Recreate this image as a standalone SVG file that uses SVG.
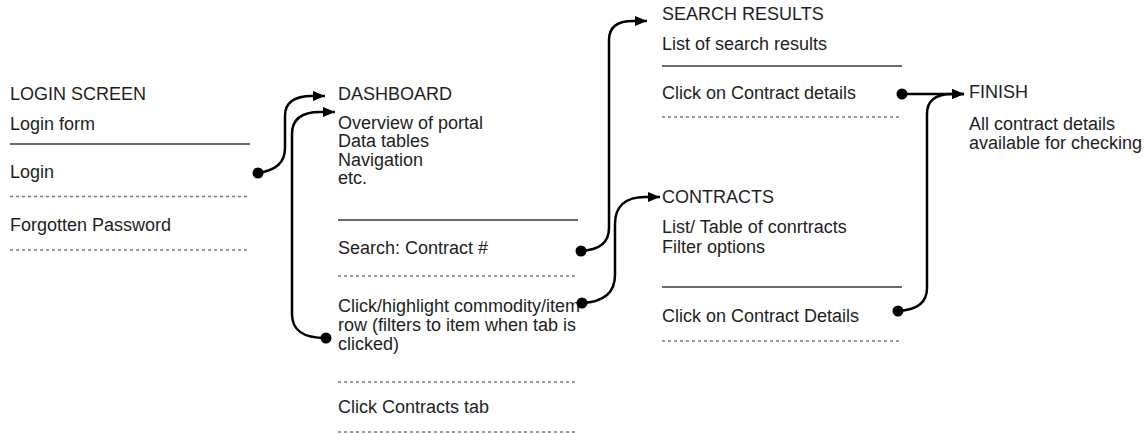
<svg xmlns="http://www.w3.org/2000/svg" width="1144" height="434" viewBox="0 0 1144 434">
<defs>
<style>
text{font-family:"Liberation Sans",Arial,sans-serif;font-size:18px;fill:#1e1e1e}
.sep{stroke:#6b6b6b;stroke-width:2;fill:none}
.dash{stroke:#7a7a7a;stroke-width:1.5;stroke-dasharray:3 3;fill:none}
.conn{stroke:#000;stroke-width:2.5;fill:none}
.dot{fill:#000}
</style>
<marker id="arr" viewBox="0 0 12 10" refX="12" refY="5" markerWidth="12" markerHeight="10" markerUnits="userSpaceOnUse" orient="auto">
<path d="M0,0 L12,5 L0,10 Z" fill="#000"/>
</marker>
</defs>
<rect width="1144" height="434" fill="#fff"/>
<g id="login">
<text x="10" y="100">LOGIN SCREEN</text>
<text x="10" y="130">Login form</text>
<line class="sep" x1="10" y1="144" x2="250" y2="144"/>
<text x="10" y="178">Login</text>
<line class="dash" x1="10" y1="196.5" x2="250" y2="196.5"/>
<text x="10" y="231">Forgotten Password</text>
<line class="dash" x1="10" y1="250" x2="250" y2="250"/>
</g>
<g id="dashboard">
<text x="338" y="100">DASHBOARD</text>
<text x="338" y="128.5">Overview of portal</text>
<text x="338" y="147">Data tables</text>
<text x="338" y="165.5">Navigation</text>
<text x="338" y="184">etc.</text>
<line class="sep" x1="338" y1="220" x2="578" y2="220"/>
<text x="338" y="254">Search: Contract #</text>
<line class="dash" x1="338" y1="276" x2="578" y2="276"/>
<text x="338" y="312">Click/highlight commodity/item</text>
<text x="338" y="331">row (filters to item when tab is</text>
<text x="338" y="350">clicked)</text>
<line class="dash" x1="338" y1="382" x2="578" y2="382"/>
<text x="338" y="413">Click Contracts tab</text>
<line class="dash" x1="338" y1="432" x2="578" y2="432"/>
</g>
<g id="search-results">
<text x="662" y="20">SEARCH RESULTS</text>
<text x="662" y="50">List of search results</text>
<line class="sep" x1="662" y1="66" x2="902" y2="66"/>
<text x="662" y="99">Click on Contract details</text>
<line class="dash" x1="662" y1="117" x2="902" y2="117"/>
</g>
<g id="contracts">
<text x="662" y="203">CONTRACTS</text>
<text x="662" y="233">List/ Table of conrtracts</text>
<text x="662" y="253">Filter options</text>
<line class="sep" x1="662" y1="287" x2="902" y2="287"/>
<text x="662" y="322">Click on Contract Details</text>
<line class="dash" x1="662" y1="341" x2="902" y2="341"/>
</g>
<g id="finish">
<text x="969" y="98">FINISH</text>
<text x="969" y="130">All contract details</text>
<text x="969" y="148.5">available for checking</text>
</g>
<g id="connectors">
<path class="conn" d="M258,173 C276,170 285,163 285,148 L285,116 C285,103 293,96 312,96 L325,96" marker-end="url(#arr)"/>
<circle class="dot" cx="258" cy="173" r="5.5"/>
<path class="conn" d="M326,338 C302,338 292,330 292,314 L292,134 C292,120 301,112 320,112 L335,112" marker-end="url(#arr)"/>
<circle class="dot" cx="326" cy="338" r="5.5"/>
<path class="conn" d="M581,251 C600,250 609,242 609,228 L609,40 C609,28 616,21 633,21 L647,21" marker-end="url(#arr)"/>
<circle class="dot" cx="581" cy="251" r="5.5"/>
<path class="conn" d="M582,303 C603,302 615,293 615,275 L615,224 C615,206 626,197 645,197 L660,197" marker-end="url(#arr)"/>
<circle class="dot" cx="582" cy="303" r="5.5"/>
<path class="conn" d="M902,94 L964,94" marker-end="url(#arr)"/>
<circle class="dot" cx="902" cy="94" r="5.5"/>
<path class="conn" d="M898,311 C918,310 927,302 927,288 L927,114 C927,101 935,94 952,94 L964,94" marker-end="url(#arr)"/>
<circle class="dot" cx="898" cy="311" r="5.5"/>
</g>
</svg>
